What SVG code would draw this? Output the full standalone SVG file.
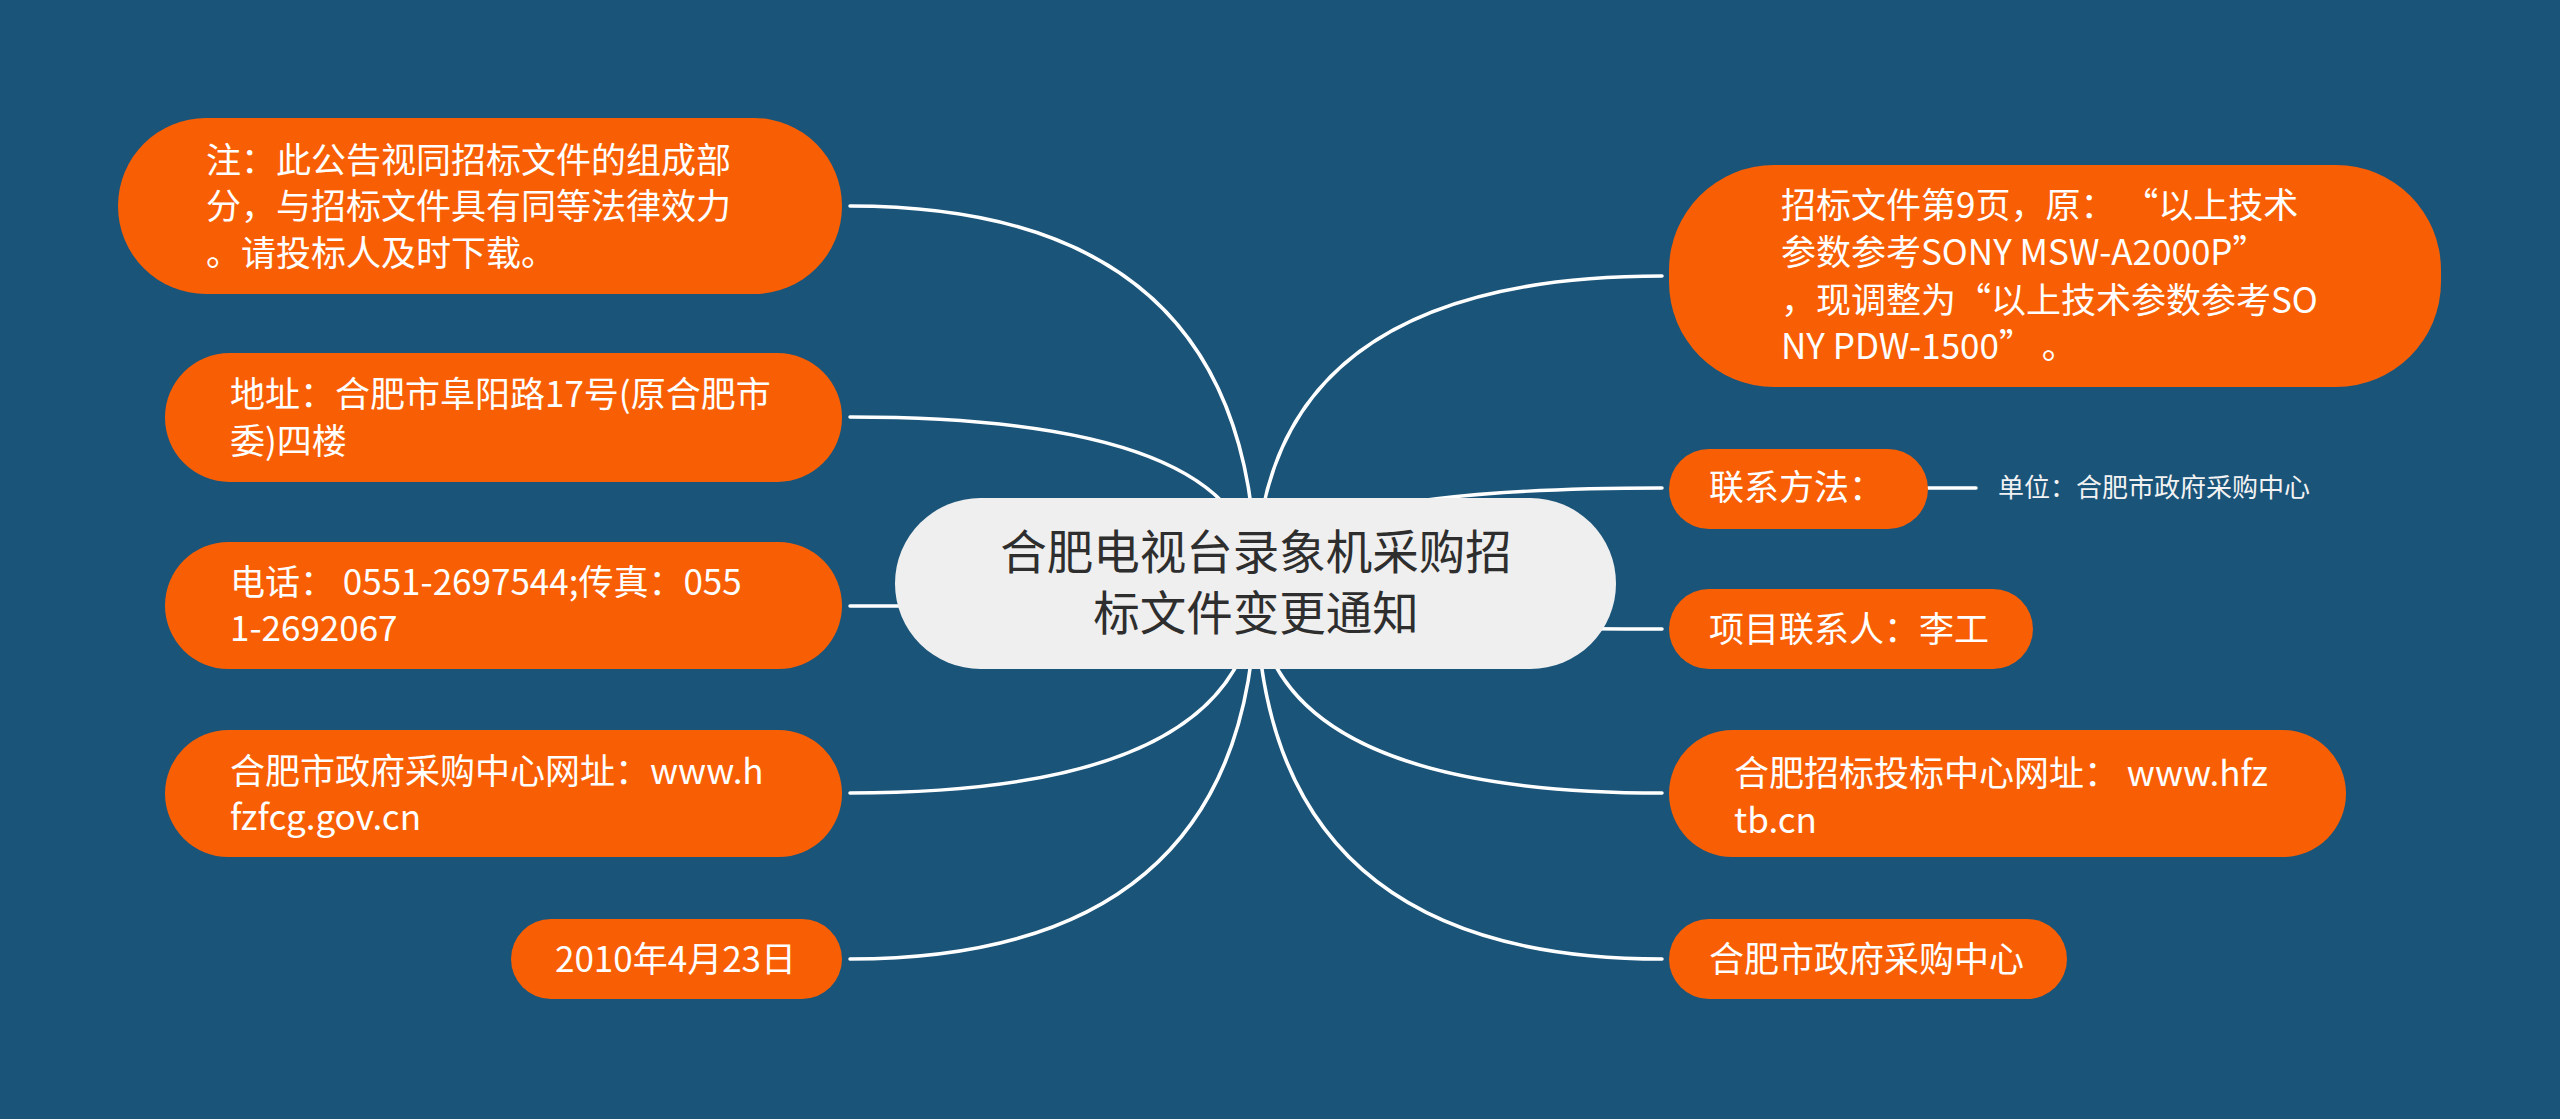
<svg xmlns="http://www.w3.org/2000/svg" width="2560" height="1119" viewBox="0 0 2560 1119">
<style>
.bg{fill:#1a5479}
.n{fill:#f85f05}
.c{fill:#efefef}
.t{font-family:"Noto Sans CJK SC","Liberation Sans",sans-serif;font-size:35px;fill:#ffffff}
.ct{font-family:"Noto Sans CJK SC","Liberation Sans",sans-serif;font-size:46.5px;fill:#2e2e2e;text-anchor:middle}
.st{font-family:"Noto Sans CJK SC","Liberation Sans",sans-serif;font-size:26px;fill:#f2f2f2}
.l{fill:none;stroke:#ffffff;stroke-width:3.5;stroke-linecap:round}
</style>
<rect class="bg" x="0" y="0" width="2560" height="1119"/>
<g id="connectors">
<path class="l" d="M1256,584 Q1256,206 850,206"/>
<path class="l" d="M1256,584 Q1256,417 850,417"/>
<path class="l" d="M1256,584 Q1256,606 850,606"/>
<path class="l" d="M1256,584 Q1256,793 850,793"/>
<path class="l" d="M1256,584 Q1256,959 850,959"/>
<path class="l" d="M1256,584 Q1256,276 1662,276"/>
<path class="l" d="M1256,584 Q1256,488 1662,488"/>
<path class="l" d="M1256,584 Q1256,629 1662,629"/>
<path class="l" d="M1256,584 Q1256,793 1662,793"/>
<path class="l" d="M1256,584 Q1256,959 1662,959"/>
<path class="l" d="M1928,488 L1976,488"/>
</g>
<g id="center">
<rect class="c" x="895" y="498" width="721" height="171" rx="85.5"/>
<text class="ct" x="1256" y="569">合肥电视台录象机采购招</text>
<text class="ct" x="1256" y="630">标文件变更通知</text>
</g>
<g id="note">
<rect class="n" x="118" y="118" width="724" height="176" rx="88"/>
<text class="t" x="206" y="173">注：此公告视同招标文件的组成部</text>
<text class="t" x="206" y="219">分，与招标文件具有同等法律效力</text>
<text class="t" x="206" y="266">。请投标人及时下载。</text>
</g>
<g id="address">
<rect class="n" x="165" y="353" width="677" height="129" rx="64.5"/>
<text class="t" x="230" y="407">地址：合肥市阜阳路17号(原合肥市</text>
<text class="t" x="230" y="454">委)四楼</text>
</g>
<g id="phone">
<rect class="n" x="165" y="542" width="677" height="127" rx="63.5"/>
<text class="t" x="230" y="595">电话： 0551-2697544;传真：055</text>
<text class="t" x="230" y="641">1-2692067</text>
</g>
<g id="website">
<rect class="n" x="165" y="730" width="677" height="127" rx="63.5"/>
<text class="t" x="230" y="784">合肥市政府采购中心网址：www.h</text>
<text class="t" x="230" y="830">fzfcg.gov.cn</text>
</g>
<g id="date">
<rect class="n" x="511" y="919" width="331" height="80" rx="40"/>
<text class="t" x="555" y="972">2010年4月23日</text>
</g>
<g id="change">
<rect class="n" x="1669" y="165" width="772" height="222" rx="105"/>
<text class="t" x="1781" y="218">招标文件第9页，原： “以上技术</text>
<text class="t" x="1781" y="265">参数参考SONY MSW-A2000P”</text>
<text class="t" x="1781" y="313">，现调整为“以上技术参数参考SO</text>
<text class="t" x="1781" y="359">NY PDW-1500” 。</text>
</g>
<g id="contact">
<rect class="n" x="1669" y="449" width="259" height="80" rx="40"/>
<text class="t" x="1709" y="500">联系方法：</text>
</g>
<g id="unit">
<text class="st" x="1998" y="497">单位：合肥市政府采购中心</text>
</g>
<g id="person">
<rect class="n" x="1669" y="589" width="364" height="80" rx="40"/>
<text class="t" x="1709" y="642">项目联系人：李工</text>
</g>
<g id="tbsite">
<rect class="n" x="1669" y="730" width="677" height="127" rx="63.5"/>
<text class="t" x="1734" y="786">合肥招标投标中心网址： www.hfz</text>
<text class="t" x="1734" y="833">tb.cn</text>
</g>
<g id="center2">
<rect class="n" x="1669" y="919" width="398" height="80" rx="40"/>
<text class="t" x="1709" y="972">合肥市政府采购中心</text>
</g>
</svg>
